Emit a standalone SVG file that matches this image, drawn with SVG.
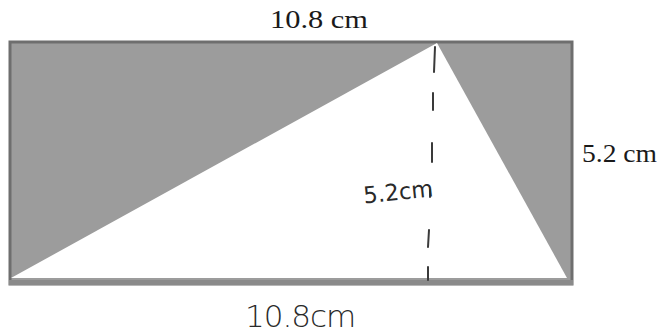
<svg xmlns="http://www.w3.org/2000/svg" width="661" height="335" viewBox="0 0 661 335">
<style>
.print{font-family:"Liberation Serif","Times New Roman",serif;font-size:26px;fill:#1a1a1a}
.hand{font-family:"DejaVu Sans",sans-serif;fill:#2a2a2a}
.dash{fill:none;stroke:#3a3a3a;stroke-width:2;stroke-linecap:round}
</style>
<rect width="661" height="335" fill="#ffffff"/>
<g id="rectangle">
<rect x="10" y="42" width="562" height="242" fill="#9c9c9c" stroke="#6e6e6e" stroke-width="3"/>
</g>
<g id="triangle">
<polygon points="11,278 437,43 567,278" fill="#ffffff"/>
<rect x="9" y="280" width="564" height="5" fill="#8a8a8a"/>
</g>
<g id="connectors">
<path class="dash" d="M435,47 L434,72 M433,93 L433,110 M432,143 L432,162 M430,190 L430,197 M429,230 L428,247 M428,267 L428,280"/>
</g>
<g id="labels">
<text class="print" x="270" y="28" textLength="98" lengthAdjust="spacingAndGlyphs">10.8 cm</text>
<text class="print" x="582" y="162" textLength="75" lengthAdjust="spacingAndGlyphs">5.2 cm</text>
<text class="hand" x="363" y="200" font-size="23" transform="rotate(-6 398 190)" textLength="70" lengthAdjust="spacingAndGlyphs">5.2cm</text>
<text class="hand" x="245" y="327" font-size="31" letter-spacing="-1" font-weight="300">10.8cm</text>
</g>
</svg>
